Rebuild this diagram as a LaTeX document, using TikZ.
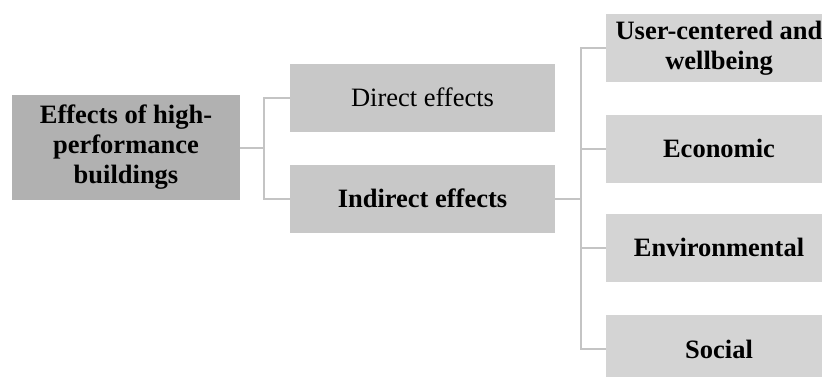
\documentclass[tikz,border=0pt]{standalone}
\usepackage{fontspec}
\setmainfont{Liberation Serif}
\usetikzlibrary{positioning,calc}
\definecolor{rootgray}{HTML}{B1B1B1}
\definecolor{midgray}{HTML}{C8C8C8}
\definecolor{lightgray}{HTML}{D4D4D4}
\definecolor{linegray}{HTML}{C4C4C4}
\tikzset{
  box/.style={
    draw=none,
    inner sep=2pt,
    align=center,
    font=\fontsize{26.5}{30}\selectfont\bfseries
  },
  rootbox/.style={box, fill=rootgray, minimum width=228pt, minimum height=105pt},
  kindbox/.style={box, fill=midgray, minimum width=265pt, minimum height=68pt},
  areabox/.style={box, fill=lightgray, minimum width=226pt, minimum height=68pt},
  link/.style={draw=linegray, line width=2pt}
}
\begin{document}
\begin{tikzpicture}[x=1pt, y=-1pt]
  \useasboundingbox (0,0) rectangle (822,376);
  \node[rootbox] (root) at (126,147.5) {Effects of high-\\performance\\buildings};
  \node[kindbox, font=\fontsize{26.5}{30}\selectfont] (direct) at (422.5,97.5) {Direct effects};
  \node[kindbox] (indirect) at (422.5,198.5) {Indirect effects};
  \node[areabox] (user) at (719,48) {User-centered and\\wellbeing};
  \node[areabox] (econ) at (719,148.5) {Economic};
  \node[areabox] (env) at (719,247.5) {Environmental};
  \node[areabox] (social) at (719,349) {Social};
  % first split
  \draw[link] (root.east) -- ++(24,0) coordinate (fork1);
  \draw[link] (fork1) |- (direct.west);
  \draw[link] (fork1) |- (indirect.west);
  % second split
  \draw[link] (indirect.east) -- ++(26,0) coordinate (fork2);
  \foreach \n in {user,econ,env,social}
    \draw[link] (fork2) |- (\n.west);
\end{tikzpicture}
\end{document}
